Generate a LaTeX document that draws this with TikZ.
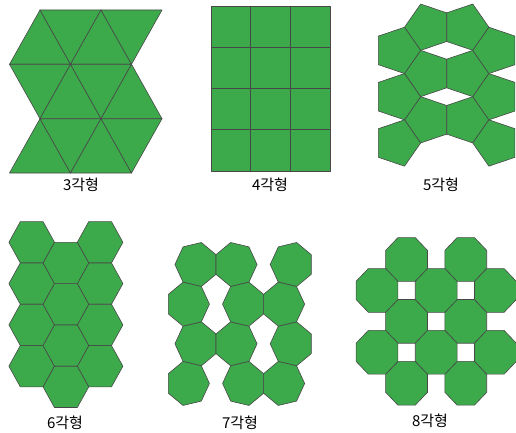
\documentclass[tikz,border=0pt]{standalone}
\usepackage{fontspec}
\newfontfamily\krfont{Noto Sans CJK KR}
\definecolor{tilegreen}{RGB}{60,170,75}
\definecolor{tileedge}{RGB}{72,72,72}
\def\kst{1.045}
% regular polygon: centre x, centre y, sides, circumradius, start angle (y axis points down)
\newcommand\polyg[5]{%
  \pgfmathtruncatemacro\lastk{#3-1}%
  \draw[tile] plot[samples at={0,...,\lastk}]
    ({#1+#4*cos(#5+\x*360/#3)},{#2+\kst*#4*sin(#5+\x*360/#3)}) -- cycle;}
\begin{document}
\begin{tikzpicture}[x=1pt,y=-1pt,
  tile/.style={fill=tilegreen,draw=tileedge,line width=0.6pt,line join=round},
  lab/.style={font=\krfont\fontsize{15}{18}\selectfont,inner sep=0pt}]
\useasboundingbox (0,0) rectangle (516,433);

% ---------- triangles ----------
\coordinate (a0) at (40,10);   \coordinate (a1) at (101,10);   \coordinate (a2) at (162,10);
\coordinate (b0) at (9.5,64.3); \coordinate (b1) at (70.5,64.3); \coordinate (b2) at (131.5,64.3);
\coordinate (c0) at (40,118.7); \coordinate (c1) at (101,118.7); \coordinate (c2) at (162,118.7);
\coordinate (d0) at (9.5,173);  \coordinate (d1) at (70.5,173);  \coordinate (d2) at (131.5,173);
\foreach \p/\q/\r in {b0/a0/b1, a0/a1/b1, b1/a1/b2, a1/a2/b2,
                      b0/b1/c0, c0/b1/c1, b1/b2/c1, c1/b2/c2,
                      d0/c0/d1, c0/c1/d1, d1/c1/d2, c1/c2/d2}
  \draw[tile] (\p) -- (\q) -- (\r) -- cycle;

% ---------- squares ----------
\foreach \i in {0,1,2}
  \foreach \j in {0,1,2,3}
    \draw[tile] ({211+39.67*\i},{6+41.25*\j}) rectangle ({211+39.67*(\i+1)},{6+41.25*(\j+1)});

% ---------- pentagons ----------
\foreach \y in {27.2,73.5,119.8}{
  \polyg{427.84}{\y}{5}{23.31}{36}
  \polyg{465.56}{\y}{5}{23.31}{0}
}
\foreach \y in {50.4,96.7,143.0}{
  \polyg{397.3}{\y}{5}{23.31}{0}
  \polyg{496.07}{\y}{5}{23.31}{36}
}

% ---------- hexagons ----------
\foreach \y in {242.3,283.6,324.9,366.2}{
  \polyg{31.7}{\y}{6}{22.8}{0}
  \polyg{100.1}{\y}{6}{22.8}{0}
}
\foreach \y in {263.0,304.3,345.6,386.9}{
  \polyg{65.9}{\y}{6}{22.8}{0}
}

% ---------- heptagons ----------
% type A: apex left (start 25.714), type B: apex right (start 0)
\foreach \y in {264.5,343.8}{
  \polyg{196.54}{\y}{7}{21.6}{25.714}
  \polyg{235.46}{\y}{7}{21.6}{0}
  \polyg{291.8}{\y}{7}{21.6}{25.714}
}
\foreach \y in {304.15,383.45}{
  \polyg{187.86}{\y}{7}{21.6}{0}
  \polyg{244.14}{\y}{7}{21.6}{25.714}
  \polyg{283.06}{\y}{7}{21.6}{0}
}

% ---------- octagons ----------
\foreach \y in {259.5,321.36,383.22}{
  \polyg{406.6}{\y}{8}{22.66}{22.5}
  \polyg{465.8}{\y}{8}{22.66}{22.5}
}
\foreach \y in {290.43,352.29}{
  \polyg{377.0}{\y}{8}{22.66}{22.5}
  \polyg{436.2}{\y}{8}{22.66}{22.5}
  \polyg{495.4}{\y}{8}{22.66}{22.5}
}

% ---------- labels ----------
\node[lab] (l3) at (81,185) {3각형};
\node[lab] (l4) at (270,185) {4각형};
\node[lab] (l5) at (441,185) {5각형};
\node[lab] (l6) at (65,423) {6각형};
\node[lab] (l7) at (240,423) {7각형};
\node[lab] (l8) at (430,421) {8각형};
\end{tikzpicture}
\end{document}
